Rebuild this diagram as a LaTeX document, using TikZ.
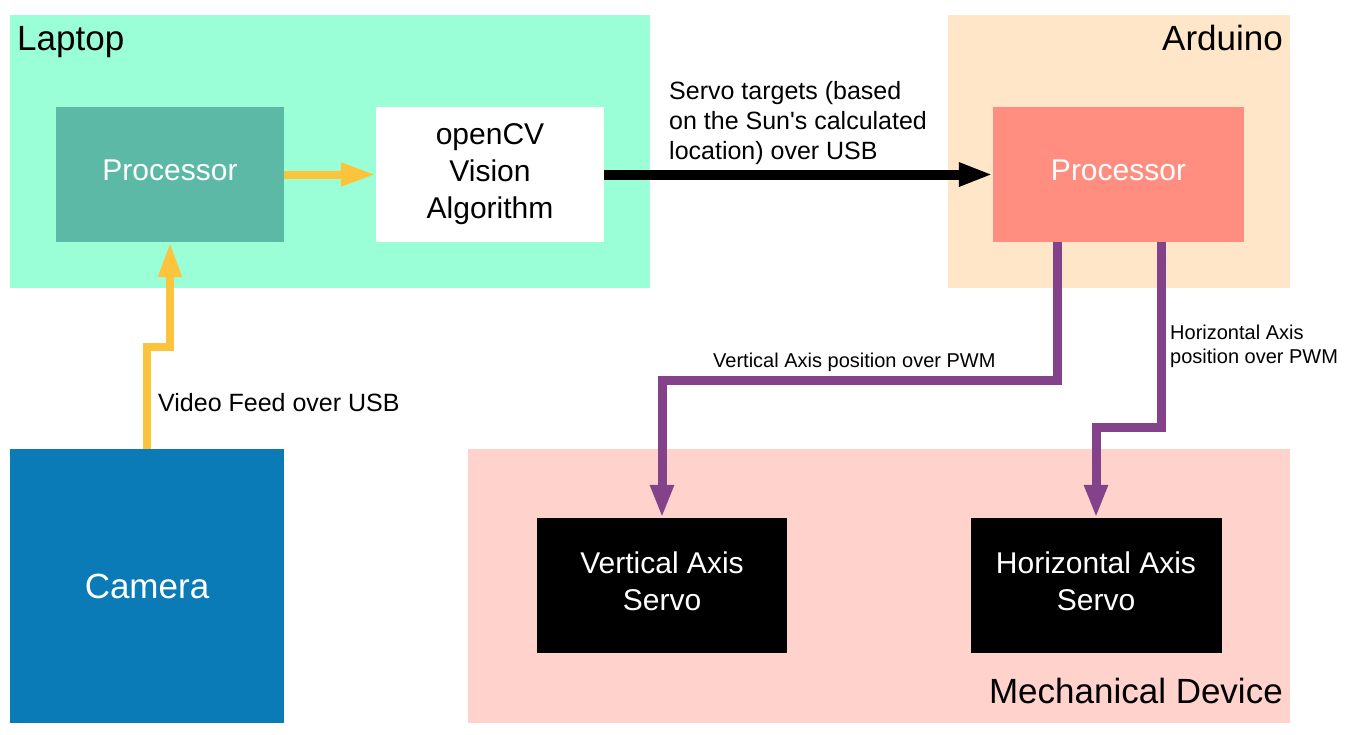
\documentclass[tikz,border=0pt]{standalone}
\usepackage{fontspec}
\setmainfont{Liberation Sans}
\usetikzlibrary{arrows.meta}
\definecolor{mint}{HTML}{9AFFD6}
\definecolor{teal2}{HTML}{5CB9A6}
\definecolor{peach}{HTML}{FFE6C8}
\definecolor{salmon}{HTML}{FF8E80}
\definecolor{pinkbg}{HTML}{FFD2CC}
\definecolor{camblue}{HTML}{0B7BB8}
\definecolor{purp}{HTML}{84428A}
\definecolor{yel}{HTML}{FCC43C}
\tikzset{
  region/.style={fill=#1, draw=none, inner sep=0pt},
  box/.style={fill=#1, draw=none, inner sep=0pt, minimum width=228pt, minimum height=135pt,
    align=center, font=\fontsize{30}{37}\selectfont},
  raised/.style={text depth=8pt},
  title/.style={inner sep=0pt, font=\fontsize{35}{42}\selectfont},
  lbl/.style={inner sep=0pt, align=left, font=\fontsize{25}{30}\selectfont},
  slbl/.style={inner sep=0pt, align=left, font=\fontsize{20}{24}\selectfont},
  yarr/.style={draw=yel, line width=8pt, -{Triangle[width=22pt,length=35pt]}},
  barr/.style={draw=black, line width=10pt, -{Triangle[width=22pt,length=34pt]}},
  parr/.style={draw=purp, line width=9pt, -{Triangle[width=22pt,length=33pt]}},
}
\begin{document}
\begin{tikzpicture}[x=1pt,y=-1pt]
\useasboundingbox[fill=white] (0,0) rectangle (1354,734);
% regions
\node[region=mint, minimum width=640pt, minimum height=273pt] (laptop) at (330,151.5) {};
\node[region=peach, minimum width=342pt, minimum height=273pt] (arduino) at (1119,151.5) {};
\node[region=pinkbg, minimum width=822pt, minimum height=274pt] (mech) at (879,586) {};
% titles
\node[title, anchor=base west] (tl) at (17,50) {Laptop};
\node[title, anchor=base east] (ta) at (1283,50) {Arduino};
\node[title, anchor=base east] (tm) at (1283,703) {Mechanical Device};
% boxes
\node[box=camblue, text=white, minimum width=274pt, minimum height=274pt, font=\fontsize{35}{42}\selectfont] (cam) at (147,586) {Camera};
\node[box=teal2, text=white, raised] (lproc) at (170,174.5) {Processor};
\node[box=white, text=black] (cv) at (490,174.5) {openCV\\Vision\\Algorithm};
\node[box=salmon, text=white, raised, minimum width=251pt] (aproc) at (1118.5,174.5) {Processor};
\node[box=black, text=white, raised, minimum width=250pt] (vs) at (662,585.5) {Vertical Axis\\Servo};
\node[box=black, text=white, raised, minimum width=251pt] (hs) at (1096,585.5) {Horizontal Axis\\Servo};
% connectors
\draw[yarr] (cam.north) -- ++(0,-102) -| (lproc.south);
\draw[yarr] (lproc.east) -- (cv.west);
\draw[barr] (cv.east) -- (aproc.west);
\draw[parr] ([xshift=-61.5pt]aproc.south) -- ++(0,138) -| (vs.north);
\draw[parr] ([xshift=42.5pt]aproc.south) -- ++(0,185) -| (hs.north);
% labels
\node[lbl, anchor=north west] (l1) at (669,81) {Servo targets (based\\on the Sun\textquotesingle s calculated\\location) over USB};
\node[lbl, anchor=base west] (l2) at (158,411) {Video Feed over USB};
\node[slbl, anchor=base west] (l3) at (713,367) {Vertical Axis position over PWM};
\node[slbl, anchor=north west] (l4) at (1170,325) {Horizontal Axis\\position over PWM};
\end{tikzpicture}
\end{document}
